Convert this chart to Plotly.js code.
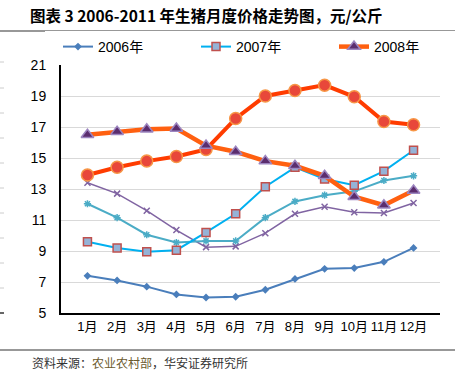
<!DOCTYPE html>
<html>
<head>
<meta charset="utf-8">
<script src="https://cdn.plot.ly/plotly-3.0.1.min.js"></script>
<style>html,body{margin:0;padding:0;background:#fff;}#chart{width:459px;height:384px;}</style>
</head>
<body>
<div id="chart"></div>
<script>
const months = ["1月","2月","3月","4月","5月","6月","7月","8月","9月","10月","11月","12月"];
const yTicks = [5,7,9,11,13,15,17,19,21];
const names = ["2006年","2007年","2008年","2009年","2010年","2011年"];
const s2006 = [7.4, 7.1, 6.7, 6.2, 6.0, 6.05, 6.5, 7.2, 7.85, 7.9, 8.3, 9.2];
const s2007 = [9.6, 9.2, 8.95, 9.05, 10.2, 11.4, 13.15, 14.4, 13.65, 13.25, 14.15, 15.5];
const s2008 = [16.5, 16.7, 16.85, 16.9, 15.8, 15.4, 14.8, 14.5, 13.85, 12.5, 11.95, 12.9];
const s2009 = [13.4, 12.7, 11.6, 10.35, 9.25, 9.3, 10.15, 11.4, 11.85, 11.5, 11.45, 12.1];
const s2010 = [12.05, 11.15, 10.05, 9.55, 9.65, 9.65, 11.15, 12.2, 12.6, 12.85, 13.55, 13.85];
const s2011 = [13.9, 14.4, 14.8, 15.1, 15.55, 17.55, 19.0, 19.35, 19.7, 18.95, 17.35, 17.15];

const traces = [
  {x: months, y: s2009, name: names[3], showlegend: false, mode: "lines+markers",
   line: {color: "#8064A2", width: 1.5}, marker: {symbol: "x-thin", size: 6, line: {color: "#8064A2", width: 1.5}}},
  {x: months, y: s2010, name: names[4], showlegend: false, mode: "lines+markers",
   line: {color: "#4BACC6", width: 2}, marker: {symbol: "asterisk", size: 6, line: {color: "#4BACC6", width: 1.5}}},
  {x: months, y: s2006, name: names[0], mode: "lines+markers",
   line: {color: "#4A7EBB", width: 2}, marker: {symbol: "diamond", size: 6, color: "#4A7EBB"}},
  {x: months, y: s2007, name: names[1], mode: "lines+markers",
   line: {color: "#00B0F0", width: 2}, marker: {symbol: "square", size: 8, color: "#95B3D7", line: {color: "#C0504D", width: 1.5}}},
  {x: months, y: s2011, name: names[5], showlegend: false, mode: "lines+markers",
   line: {color: "#FF3C00", width: 4}, marker: {symbol: "circle", size: 12, color: "#E8473A", line: {color: "#F79646", width: 1.5}}},
  {x: months, y: s2008, name: names[2], mode: "lines+markers",
   line: {color: "#FF6010", width: 4.5}, marker: {symbol: "triangle-up", size: 11, color: "#5B2D6E", line: {color: "#9C85C0", width: 1.5}}}
];

const shapes = [
  {type: "line", xref: "paper", yref: "paper", x0: -61/379, x1: 394/379, y0: (384-31-71)/248, y1: (384-31-71)/248, line: {color: "#333", width: 1.2}},
  {type: "line", xref: "paper", yref: "paper", x0: -61/379, x1: 394/379, y0: -(350-313)/248, y1: -(350-313)/248, line: {color: "#333", width: 1.2}}
];
const dashY = [62, 88, 113, 138, 163, 188, 213, 238, 263, 288];
dashY.forEach(function(py){
  shapes.push({type: "line", xref: "paper", yref: "paper", x0: -61/379, x1: -57/379, y0: (313-py)/248, y1: (313-py)/248, line: {color: "#ccc", width: 1}});
});
shapes.push({type: "line", xref: "paper", yref: "paper", x0: -61/379, x1: -57/379, y0: 0, y1: 0, line: {color: "#333", width: 1.5}});

const layout = {
  width: 459, height: 384,
  margin: {l: 61, r: 19, t: 65, b: 71},
  paper_bgcolor: "#fff", plot_bgcolor: "#fff",
  font: {family: "Liberation Sans, Arial, Noto Sans CJK SC, sans-serif", size: 13, color: "#000"},
  title: {text: "<b>图表 3 2006-2011 年生猪月度价格走势图，元/公斤</b>", x: 30/459, xanchor: "left", y: 1 - 17/384, yanchor: "middle",
          font: {family: "Noto Sans CJK SC, sans-serif", size: 15.5, color: "#000"}},
  xaxis: {type: "category", showgrid: false, showline: true, linecolor: "#000", linewidth: 2, ticks: "", zeroline: false,
          tickfont: {size: 13, family: "Liberation Sans, Noto Sans CJK SC, sans-serif"}},
  yaxis: {range: [5, 21], tickvals: yTicks, showgrid: true, gridcolor: "#D9D9D9", gridwidth: 1, showline: true, linecolor: "#000", linewidth: 2,
          ticks: "", zeroline: false, ticklabelstandoff: 10, tickfont: {size: 14}},
  legend: {orientation: "h", x: -0.001, xanchor: "left", y: 1 + 18/248, yanchor: "middle", indentation: 13,
           font: {size: 14, family: "Liberation Sans, Noto Sans CJK SC, sans-serif"},
           entrywidth: 80, entrywidthmode: "pixels",
           traceorder: "normal", itemwidth: 30, tracegroupgap: 0},
  shapes: shapes,
  annotations: [
    {xref: "paper", yref: "paper", x: -31/379, y: -(362-313)/248, xanchor: "left", yanchor: "middle", showarrow: false,
     text: "资料来源：<span style=\"color:#6B5A2E\">农业农村部</span>，华安证券研究所",
     font: {family: "Noto Sans CJK SC, sans-serif", size: 12, color: "#333"}}
  ]
};

Plotly.newPlot("chart", traces, layout, {displayModeBar: false, staticPlot: true});
</script>
</body>
</html>
